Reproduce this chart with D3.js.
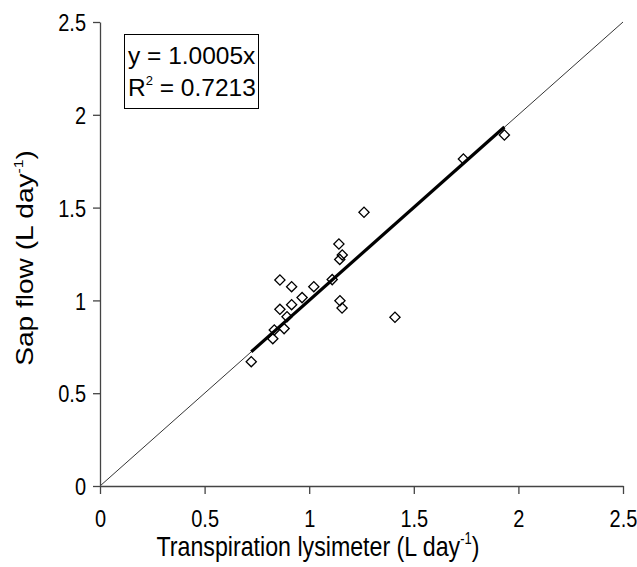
<!DOCTYPE html>
<html><head><meta charset="utf-8">
<script src="https://cdn.jsdelivr.net/npm/d3@7"></script>
<style>body{margin:0;background:#fff}svg{display:block}text{font-family:"Liberation Sans",Arial,sans-serif;fill:#000}</style>
</head><body>
<svg id="c" width="637" height="567"></svg>
<script>
const lysimeter = [1.262,1.142,1.158,1.146,0.860,0.916,1.022,1.110,0.966,0.916,0.860,0.894,1.147,1.157,1.410,0.833,0.880,0.826,0.723,1.933,1.737];
const sapflow   = [1.475,1.304,1.245,1.221,1.110,1.074,1.074,1.112,1.015,0.977,0.952,0.912,0.998,0.959,0.909,0.841,0.848,0.794,0.670,1.891,1.762];
const ticks = [0,0.5,1,1.5,2,2.5];
const slope = 1.0005;
const eqLines = ["y = 1.0005x","R2 = 0.7213"];

const S = 1.2; // vertical stretch of the reference text
const svg = d3.select("#c");
const x = d3.scaleLinear().domain([0,2.5]).range([100,623]);
const y = d3.scaleLinear().domain([0,2.5]).range([486,22]);

// 1:1 line
svg.append("line").attr("x1",x(0)).attr("y1",y(0)).attr("x2",x(2.5)).attr("y2",y(2.5))
  .attr("stroke","#000").attr("stroke-width",0.8);

// axes
const xa = svg.append("g").attr("transform",`translate(0,${y(0)})`)
  .call(d3.axisBottom(x).tickValues(ticks).tickFormat(d3.format("")).tickSizeInner(8).tickSizeOuter(0));
const ya = svg.append("g").attr("transform",`translate(${x(0)},0)`)
  .call(d3.axisLeft(y).tickValues(ticks).tickFormat(d3.format("")).tickSizeInner(7).tickSizeOuter(0).tickPadding(7));
[xa,ya].forEach(g=>{
  g.selectAll("path,line").attr("stroke","#444").attr("stroke-width",1.3);
  g.selectAll("text").attr("font-size",20).attr("font-family","Liberation Sans, Arial, sans-serif").attr("fill","#000");
});
xa.selectAll("text").attr("y",41/S).attr("dy",0).attr("transform",`scale(1,${S})`);
ya.selectAll("text").attr("dy","0.36em").attr("transform",`scale(1,${S})`);

// regression line
const xmin = d3.min(lysimeter), xmax = d3.max(lysimeter);
svg.append("line").attr("x1",x(xmin)).attr("y1",y(slope*xmin)).attr("x2",x(xmax)).attr("y2",y(slope*xmax))
  .attr("stroke","#000").attr("stroke-width",3.2);

// points
const sym = d3.symbol().type(d3.symbolSquare).size(52);
svg.append("g").selectAll("path").data(lysimeter).join("path")
  .attr("d",sym)
  .attr("transform",(d,i)=>`translate(${x(d)},${y(sapflow[i])}) rotate(45)`)
  .attr("fill","none").attr("stroke","#000").attr("stroke-width",1.3);

// equation box
svg.append("rect").attr("x",124.5).attr("y",34.5).attr("width",134).attr("height",74)
  .attr("fill","#fff").attr("stroke","#000").attr("stroke-width",1);
svg.append("text").attr("x",128).attr("y",64).attr("font-size",24.5).text(eqLines[0]);
const t2 = svg.append("text").attr("x",128).attr("y",95.5).attr("font-size",24.5);
t2.append("tspan").text("R");
t2.append("tspan").attr("font-size",13).attr("dy",-11).text("2");
t2.append("tspan").attr("dy",11).text(" = 0.7213");

// axis titles
const xt = svg.append("text").attr("transform",`translate(318,556) scale(1,${S})`).attr("text-anchor","middle").attr("font-size",23.2);
xt.append("tspan").text("Transpiration lysimeter (L day");
xt.append("tspan").attr("font-size",13).attr("dy",-10).text("-1");
xt.append("tspan").attr("dy",10).text(")");

const yt = svg.append("text").attr("transform",`translate(33,258) rotate(-90) scale(${S},1)`).attr("text-anchor","middle").attr("font-size",23.4);
yt.append("tspan").text("Sap flow (L day");
yt.append("tspan").attr("font-size",13).attr("dy",-10).text("-1");
yt.append("tspan").attr("dy",10).text(")");
</script>
</body></html>
